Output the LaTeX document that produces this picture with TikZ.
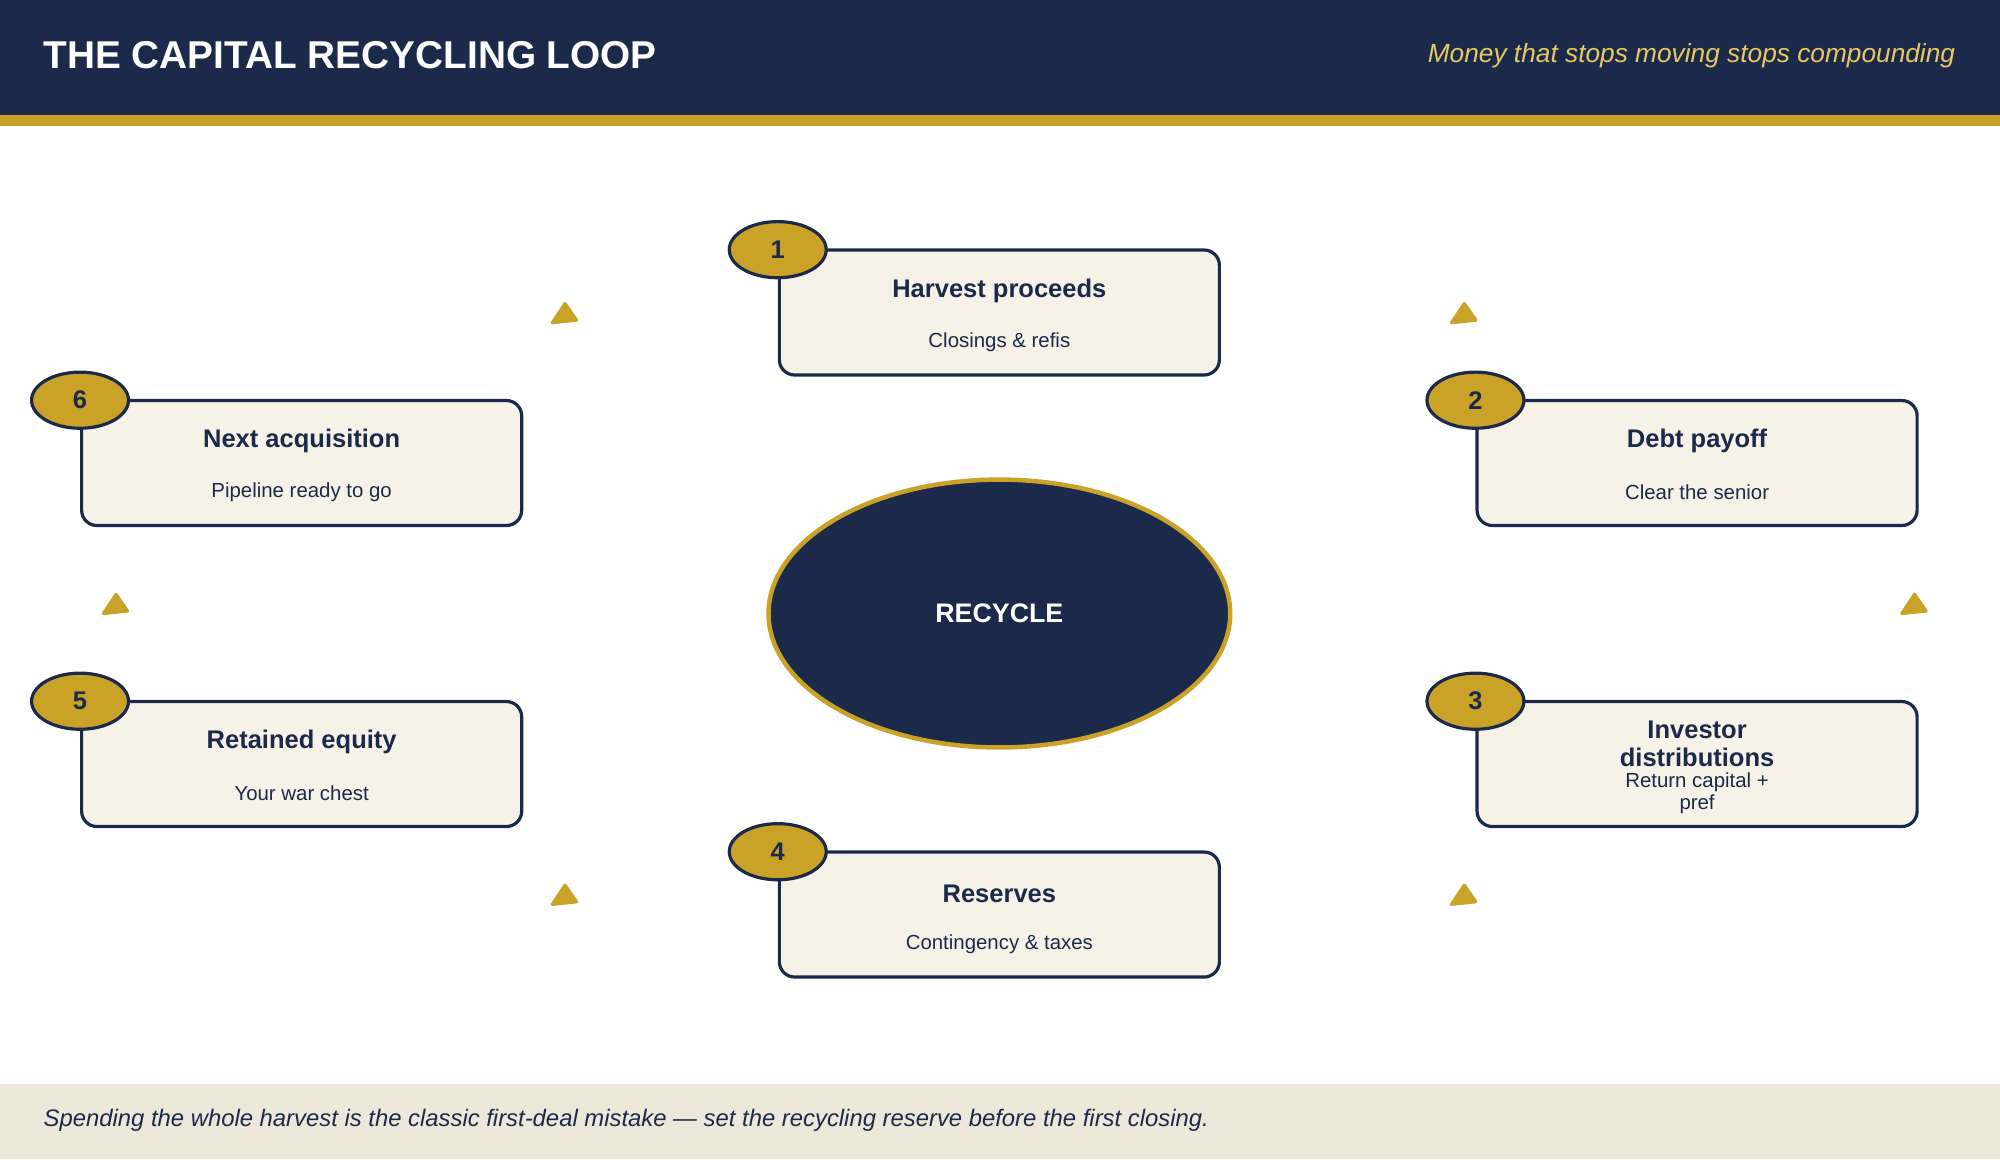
\documentclass[tikz,border=0pt]{standalone}
\usepackage{fontspec}
\setmainfont{Liberation Sans}
\usetikzlibrary{calc,arrows.meta,positioning,shapes.geometric}
\definecolor{navy}{HTML}{1B2A4A}
\definecolor{gold}{HTML}{C9A227}
\definecolor{paleGold}{HTML}{E8C860}
\definecolor{cream}{HTML}{F7F2E8}
\definecolor{sand}{HTML}{EEE8DA}
\begin{document}
\begin{tikzpicture}[x=1pt,y=-1pt]

\tikzset{stepbox/.style={draw=navy,line width=2.5pt,fill=cream,rounded corners=12pt,minimum width=345pt,minimum height=98pt,shape=rectangle},
badge/.style={draw=navy,line width=2.5pt,fill=gold,shape=ellipse,minimum width=76pt,minimum height=44pt,inner sep=0pt,font=\fontsize{20}{24}\selectfont\bfseries,text=navy},
steptitle/.style={font=\fontsize{20}{22}\selectfont\bfseries,text=navy,align=center},
stepsub/.style={font=\fontsize{16}{17}\selectfont,text=navy,align=center},
stub/.style={fill=gold,draw=gold,line width=2.5pt,line join=round}}

% Frame, header and footer
\useasboundingbox (0,0) rectangle (1568,909);
\fill[navy] (0,0) rectangle (1568,90);
\fill[gold] (0,90) rectangle (1568,99);
\fill[sand] (0,850) rectangle (1568,909);
\node[anchor=west,text=white,font=\fontsize{30.4}{34}\selectfont\bfseries,inner sep=0pt] (title) at (34,43) {THE CAPITAL RECYCLING LOOP};
\node[anchor=east,text=paleGold,font=\fontsize{20.6}{24}\selectfont\itshape,inner sep=0pt] (subtitle) at (1533,44) {Money that stops moving stops compounding};
\node[anchor=west,text=navy,font=\fontsize{18.7}{22}\selectfont\itshape,inner sep=0pt] (note) at (34,878) {Spending the whole harvest is the classic first-deal mistake — set the recycling reserve before the first closing.};

% Centre
\node[shape=ellipse,fill=navy,draw=gold,line width=3.5pt,minimum width=362pt,minimum height=210pt,text=white,font=\fontsize{21}{24}\selectfont\bfseries] (hub) at (783.5,481) {RECYCLE};

% Step boxes
\node[stepbox] (b1) at (783.5,245) {};
\node[stepbox] (b2) at (1330.5,363) {};
\node[stepbox] (b3) at (1330.5,599) {};
\node[stepbox] (b4) at (783.5,717) {};
\node[stepbox] (b5) at (236.5,599) {};
\node[stepbox] (b6) at (236.5,363) {};

% Badges
\foreach \i in {1,...,6} \node[badge] (n\i) at ($(b\i.north west)+(0,1)$) {\i};

% Texts
\node[steptitle] (t1) at ($(b1)+(0,-17)$) {Harvest proceeds};
\node[stepsub] (u1) at ($(b1)+(0,23)$) {Closings \& refis};
\node[steptitle] (t2) at ($(b2)+(0,-17)$) {Debt payoff};
\node[stepsub] (u2) at ($(b2)+(0,23)$) {Clear the senior};
\node[steptitle] (t3) at ($(b3)+(0,-16)$) {Investor\\distributions};
\node[stepsub] (u3) at ($(b3)+(0,23)$) {Return capital +\\pref};
\node[steptitle] (t4) at ($(b4)+(0,-16)$) {Reserves};
\node[stepsub] (u4) at ($(b4)+(0,23)$) {Contingency \& taxes};
\node[steptitle] (t5) at ($(b5)+(0,-17)$) {Retained equity};
\node[stepsub] (u5) at ($(b5)+(0,23)$) {Your war chest};
\node[steptitle] (t6) at ($(b6)+(0,-17)$) {Next acquisition};
\node[stepsub] (u6) at ($(b6)+(0,23)$) {Pipeline ready to go};

% Loop arrow stubs
\foreach \name/\x/\y in {a1/442/245, a2/1147/245, a3/1500/473, a4/1147/701, a5/442/701, a6/90/473} {
  \coordinate (\name) at (\x,\y);
  \filldraw[stub] ($(\name)+(1,-7)$) -- ($(\name)+(-9,8)$) -- ($(\name)+(10,6)$) -- cycle;
}

\end{tikzpicture}
\end{document}
